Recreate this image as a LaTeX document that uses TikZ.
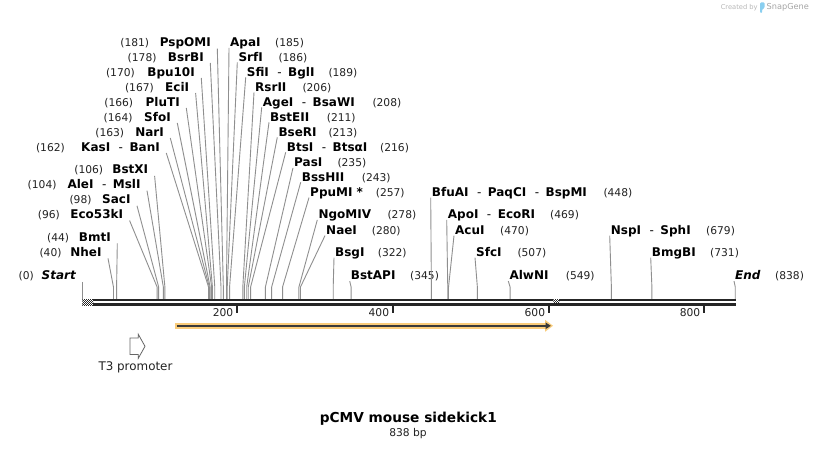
\documentclass[tikz,border=0pt]{standalone}
\usepackage{fontspec}
\setmainfont{DejaVu Sans}[ItalicFont={DejaVu Sans Oblique},BoldFont={DejaVu Sans Bold},BoldItalicFont={DejaVu Sans Bold Oblique}]
\definecolor{barc}{HTML}{262626}
\definecolor{cutc}{HTML}{8F8F8F}
\definecolor{featorange}{RGB}{250,204,122}
\definecolor{featdark}{HTML}{3A3A3A}
\definecolor{wmgray}{HTML}{B8B8B8}
\definecolor{wmblue}{HTML}{8ACFF0}
\definecolor{numc}{HTML}{222222}
\tikzset{
  namef/.style={inner sep=0pt, font=\fontsize{12}{14}\selectfont\bfseries, text=black},
  numf/.style={inner sep=0pt, font=\fontsize{10.7}{13}\selectfont, text=numc},
  cutline/.style={draw=cutc, line width=0.9pt},
  barline/.style={draw=barc, line width=2.4pt},
  tickline/.style={draw=barc, line width=2pt},
  promoter/.style={draw=black!60, line width=0.8pt, fill=white},
}
\newcommand\hy{\hspace{8.5pt}{\mdseries-}\hspace{6.5pt}}
\newcommand\leftsite[7]{%
  \pgfmathsetmacro\sitex{82.3+0.7792*#7}%
  \node[namef, anchor=base east] (#1) at (#4,#6+4.4) {#2};
  \node[numf, anchor=base east] (#1n) at (#5,#6+4.4) {(#3)};
  \coordinate (#1k) at (\sitex,287);
  \coordinate (#1b) at (\sitex,299);
  \draw[cutline] ([shift={(6.3,1.9)}]#1.base east) -- (#1k) -- (#1b);
}
\newcommand\rightsite[7]{%
  \pgfmathsetmacro\sitex{82.3+0.7792*#7}%
  \node[namef, anchor=base west] (#1) at (#4,#6+4.4) {#2};
  \node[numf, anchor=base west] (#1n) at (#5,#6+4.4) {(#3)};
  \coordinate (#1k) at (\sitex,287);
  \coordinate (#1b) at (\sitex,299);
  \draw[cutline] ([shift={(-1,1.2)}]#1.base west) -- (#1k) -- (#1b);
}
\begin{document}
\begin{tikzpicture}[x=1pt,y=-1pt]
\useasboundingbox (0,0) rectangle (818,449);
\fill[white] (0,0) rectangle (818,449);

% watermark
\node[inner sep=0pt, text=wmgray, font=\fontsize{6.7}{8}\selectfont] (wm1) at (739.2,7.5) {Created by};
\fill[wmblue, rounded corners=1pt] (760,13) -- (760,2.5) -- (764.5,2.5) -- (764.5,8) -- (762,9.5) -- (762,13) -- cycle;
\node[inner sep=0pt, text=wmgray!90!black, font=\fontsize{8.2}{10}\selectfont] (wm2) at (787.8,7.3) {SnapGene};

% left labels
\leftsite{pspomi}{PspOMI}{181}{211}{149.3}{42.3}{181}
\leftsite{bsrbi}{BsrBI}{178}{204}{156.7}{56.7}{178}
\leftsite{bpu}{Bpu10I}{170}{195}{135}{71.7}{170}
\leftsite{ecii}{EciI}{167}{189.3}{154}{86.7}{167}
\leftsite{pluti}{PluTI}{166}{180}{133.3}{101.7}{166}
\leftsite{sfoi}{SfoI}{164}{171}{132.7}{116.7}{164}
\leftsite{nari}{NarI}{163}{164}{124.3}{131.7}{163}
\leftsite{kasi}{KasI\hy BanI}{162}{160}{65}{146.7}{162}
\leftsite{bstxi}{BstXI}{106}{148.3}{103.3}{169.5}{106}
\leftsite{alei}{AleI\hy MslI}{104}{140.7}{56.7}{184.3}{104}
\leftsite{saci}{SacI}{98}{130.7}{91.7}{199.5}{98}
\leftsite{eco}{Eco53kI}{96}{123.3}{60}{214.3}{96}
\leftsite{bmti}{BmtI}{44}{111}{69.3}{237}{44}
\leftsite{nhei}{NheI}{40}{101.7}{61.7}{252}{40}
\leftsite{startsite}{\itshape Start}{0}{76}{34}{275.5}{0}

% right labels
\rightsite{apai}{ApaI}{185}{230}{275}{42.3}{185}
\rightsite{srfi}{SrfI}{186}{238.3}{278.3}{56.7}{186}
\rightsite{sfii}{SfiI\hy BglI}{189}{246.7}{328.3}{71.7}{189}
\rightsite{rsrii}{RsrII}{206}{255}{302.3}{86.7}{206}
\rightsite{agei}{AgeI\hy BsaWI}{208}{262.7}{372.3}{101.7}{208}
\rightsite{bsteii}{BstEII}{211}{270}{326.7}{116.7}{211}
\rightsite{bseri}{BseRI}{213}{278.3}{328.3}{131.7}{213}
\rightsite{btsi}{BtsI\hy BtsαI}{216}{286.7}{380}{146.7}{216}
\rightsite{pasi}{PasI}{235}{294}{337.3}{162.3}{235}
\rightsite{bsshii}{BssHII}{243}{301.7}{361.7}{176.7}{243}
\rightsite{ppumi}{PpuMI *}{257}{310}{375.7}{192}{257}
\rightsite{ngomiv}{NgoMIV}{278}{318.3}{387.3}{214.3}{278}
\rightsite{naei}{NaeI}{280}{326}{371.7}{230}{280}
\rightsite{bsgi}{BsgI}{322}{335}{377.7}{252}{322}
\rightsite{bstapi}{BstAPI}{345}{350.7}{410}{275.5}{345}
\rightsite{bfuai}{BfuAI\hy PaqCI\hy BspMI}{448}{431.7}{603.3}{192}{448}
\rightsite{apoi}{ApoI\hy EcoRI}{469}{447.7}{550}{214.3}{469}
\rightsite{acui}{AcuI}{470}{455}{500}{230}{470}
\rightsite{sfci}{SfcI}{507}{476}{517.3}{252}{507}
\rightsite{alwni}{AlwNI}{549}{509.3}{565.7}{275.5}{549}
\rightsite{nspi}{NspI\hy SphI}{679}{610.7}{706}{230}{679}
\rightsite{bmgbi}{BmgBI}{731}{651.7}{710}{252}{731}
\rightsite{endsite}{\itshape End}{838}{735}{775}{275.5}{838}

% sequence bar
\draw[barline] (82.3,300.2) -- (736,300.2);
\draw[barline] (82.3,304.4) -- (736,304.4);
% checkered marks
\begin{scope}
  \clip (82.3,298.8) rectangle (93.3,305.8);
  \fill[white] (82.3,298.8) rectangle (93.3,305.8);
  \foreach \i in {0,2,...,10} \foreach \j in {0,2,...,6} {
    \fill[barc] (82.3+\i,298.8+\j) rectangle ++(1,1);
    \fill[barc] (83.3+\i,299.8+\j) rectangle ++(1,1);
  }
\end{scope}
\begin{scope}
  \clip (553.3,298.6) rectangle (559.3,302.8);
  \fill[white] (553.3,298.6) rectangle (559.3,302.8);
  \foreach \i in {0,2,...,6} \foreach \j in {0,2,4} {
    \fill[barc] (553.3+\i,298.6+\j) rectangle ++(1,1);
    \fill[barc] (554.3+\i,299.6+\j) rectangle ++(1,1);
  }
\end{scope}

% ticks
\draw[tickline] (236.9,305) -- (236.9,312.5);
\draw[tickline] (392.8,305) -- (392.8,312.5);
\draw[tickline] (549,305) -- (549,312.5);
\draw[tickline] (704.3,305) -- (704.3,312.5);
\node[numf, anchor=base east] (t200) at (233.4,316.6) {200};
\node[numf, anchor=base east] (t400) at (389.3,316.6) {400};
\node[numf, anchor=base east] (t600) at (545.3,316.6) {600};
\node[numf, anchor=base east] (t800) at (700.5,316.6) {800};

% orange feature
\coordinate (fa) at (175,325.8);
\coordinate (fb) at (545.5,325.8);
\draw[featorange, line width=6.3pt] (fa) -- (fb);
\fill[featorange] (545,319.8) -- (553,325.8) -- (545,331.8) -- cycle;
\draw[featdark, line width=2pt] ([xshift=1.5pt]fa) -- ([xshift=0.5pt]fb);
\fill[featdark] (545.5,322.4) -- (550.8,325.8) -- (545.5,329.2) -- cycle;

% T3 promoter
\draw[promoter] (130,338) -- (138.3,338) -- (138.3,334.3) -- (145,346.3) -- (138.3,358.3) -- (138.3,354.5) -- (130,354.5) -- cycle;
\node[inner sep=0pt, font=\fontsize{11.9}{14}\selectfont, text=numc] (t3) at (135.5,367.7) {T3 promoter};

% title
\node[inner sep=0pt, font=\fontsize{13.7}{16}\selectfont\bfseries] (title) at (408.3,418.3) {pCMV mouse sidekick1};
\node[numf] (len) at (408,433.3) {838 bp};
\end{tikzpicture}
\end{document}
